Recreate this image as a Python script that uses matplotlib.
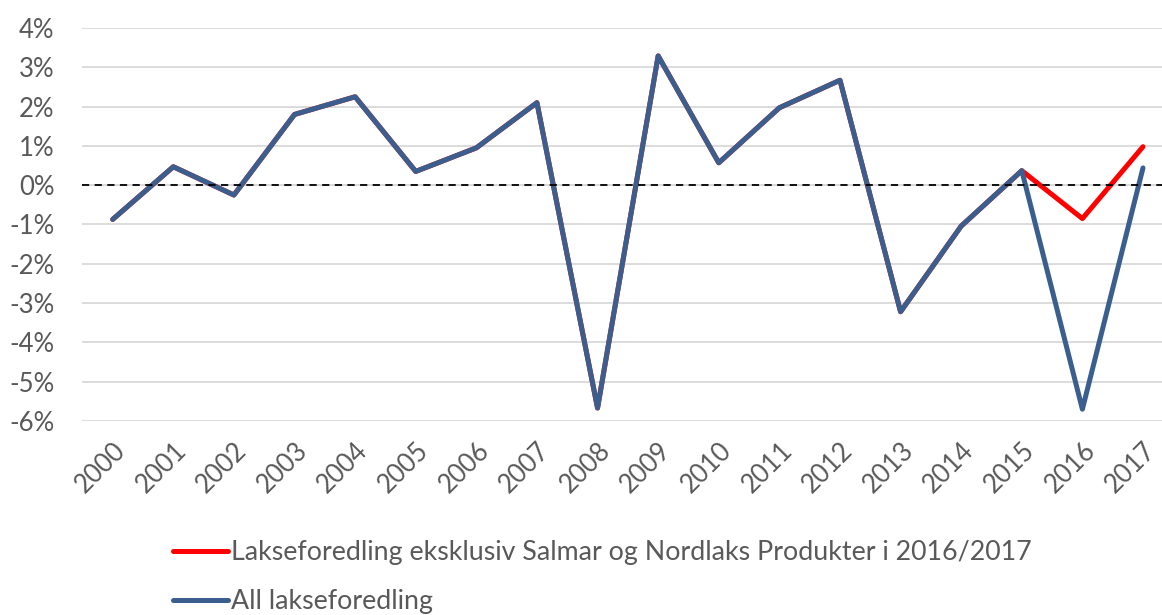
import matplotlib
matplotlib.use("Agg")
import matplotlib.pyplot as plt
from matplotlib.ticker import FuncFormatter

years = [str(y) for y in range(2000, 2018)]
all_lakseforedling = [-0.87, 0.47, -0.25, 1.80, 2.25, 0.35, 0.95, 2.10, -5.67, 3.29,
                      0.57, 1.97, 2.67, -3.22, -1.04, 0.37, -5.70, 0.44]
ekskl_salmar = [-0.87, 0.47, -0.25, 1.80, 2.25, 0.35, 0.95, 2.10, -5.67, 3.29,
                0.57, 1.97, 2.67, -3.22, -1.04, 0.37, -0.85, 0.98]
yticks = [-6, -5, -4, -3, -2, -1, 0, 1, 2, 3, 4]

plt.rcParams['font.family'] = ['Lato', 'DejaVu Sans']
W, H = 1162, 615
fig = plt.figure(figsize=(W/100, H/100), dpi=100)
left, right, top, bottom = 82.4, 1162, 28, 421
ax = fig.add_axes([left/W, 1-bottom/H, (right-left)/W, (bottom-top)/H])

x = list(range(len(years)))
red = '#FF0000'
blue = '#3A5F8F'
ax.plot(x, ekskl_salmar, color=red, lw=3.6, solid_capstyle='round', solid_joinstyle='round', zorder=3,
        label='Lakseforedling eksklusiv Salmar og Nordlaks Produkter i 2016/2017')
ax.plot(x, all_lakseforedling, color=blue, lw=3.6, solid_capstyle='round', solid_joinstyle='round', zorder=4,
        label='All lakseforedling')
ax.axhline(0, color='black', lw=1.3, ls=(0, (4, 3)), zorder=5)

ax.set_ylim(-6, 4)
ax.set_yticks(yticks)
ax.yaxis.set_major_formatter(FuncFormatter(lambda v, p: f"{int(v)}%"))
ax.grid(axis='y', color='#D9D9D9', lw=1.3, zorder=0)
ax.set_xlim(-0.5, 17 + (right - 1143) / 60.6)
ax.set_xticks(x)
ax.set_xticklabels(years, rotation=45, ha='right', rotation_mode='anchor')
for s in ax.spines.values():
    s.set_visible(False)
ax.tick_params(axis='both', length=0, colors='#595959', labelsize=18.5)
ax.tick_params(axis='x', pad=12)
ax.tick_params(axis='y', pad=20)

leg = fig.legend(loc='upper left', bbox_to_anchor=(149/W, 1-516/H), frameon=False,
                 fontsize=19.3, labelcolor='#595959', handlelength=2.05, handletextpad=0.1,
                 labelspacing=0.9)

fig.savefig('out.png', dpi=100)
